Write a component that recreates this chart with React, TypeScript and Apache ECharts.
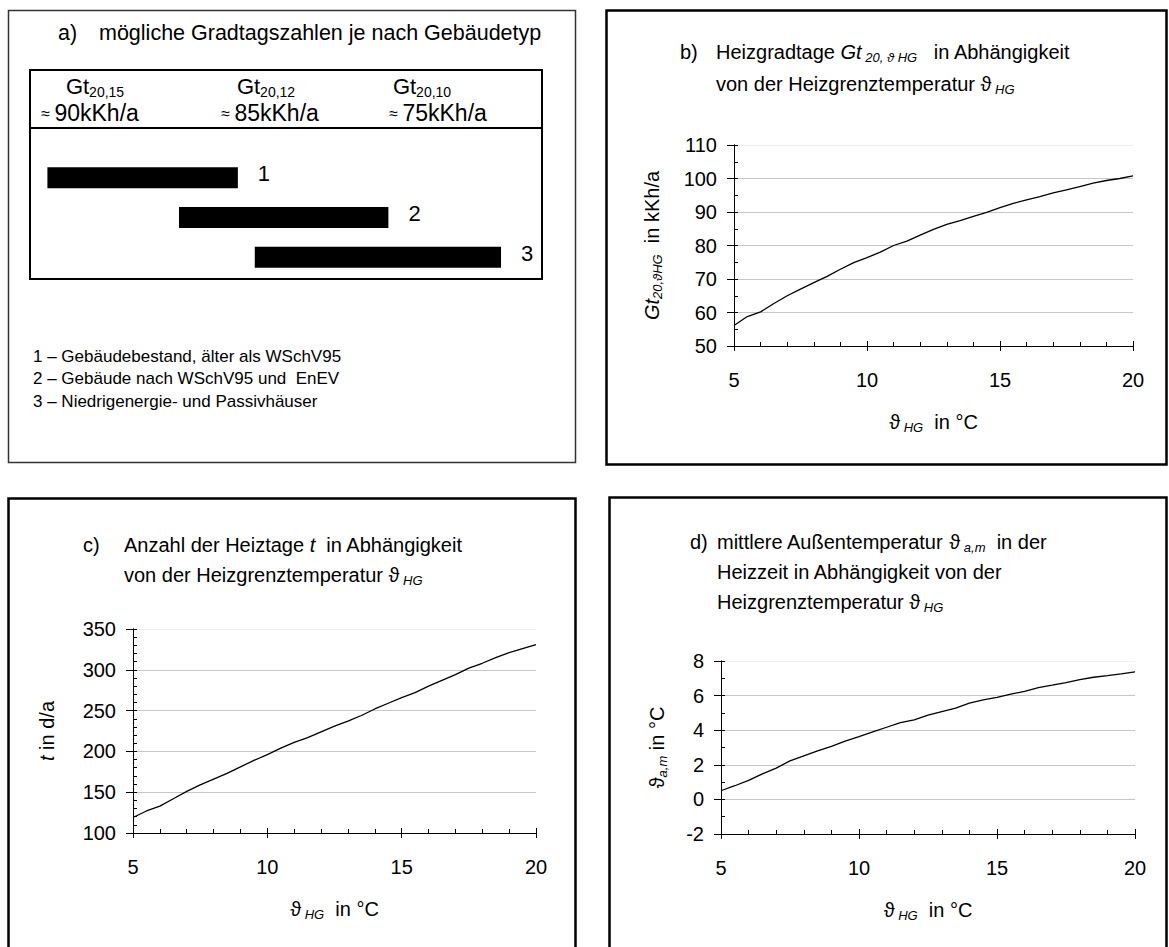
import React, { useEffect, useRef } from "react";
import * as echarts from "echarts";

const FONT = "'Liberation Sans', Arial, 'DejaVu Sans', sans-serif";

// Heizgrenztemperatur (x values, °C)
const tempHG = [5, 5.5, 6, 6.5, 7, 7.5, 8, 8.5, 9, 9.5, 10, 10.5, 11, 11.5, 12, 12.5, 13, 13.5, 14, 14.5, 15, 15.5, 16, 16.5, 17, 17.5, 18, 18.5, 19, 19.5, 20];
// b) Heizgradtage in kKh/a
const gradtage = [56.1, 58.8, 60.2, 62.7, 65.0, 67.0, 68.9, 70.8, 72.9, 74.9, 76.4, 78.0, 80.0, 81.3, 83.1, 84.8, 86.3, 87.4, 88.7, 89.9, 91.3, 92.6, 93.6, 94.6, 95.7, 96.6, 97.6, 98.6, 99.4, 100.0, 100.8];
// c) Heiztage in d/a
const heiztage = [119, 127, 133, 142, 151, 159, 166, 173, 181, 189, 196, 204, 211, 217, 224, 231, 237, 244, 252, 259, 266, 272, 280, 287, 294, 302, 308, 315, 321, 326, 331];
// d) mittlere Außentemperatur in °C
const mittlereTemp = [0.5, 0.79, 1.1, 1.48, 1.81, 2.23, 2.52, 2.81, 3.06, 3.37, 3.63, 3.9, 4.17, 4.44, 4.6, 4.87, 5.08, 5.27, 5.56, 5.75, 5.9, 6.08, 6.25, 6.46, 6.6, 6.75, 6.92, 7.06, 7.15, 7.25, 7.37];

// a) building types and their ranges (relative position 0..100 across the box)
const buildingTypes = ["1", "2", "3"];
const rangeStart = [3.4, 29.1, 43.9];
const rangeEnd = [40.6, 70.0, 92.0];
const headerGt = ["20,15", "20,12", "20,10"];
const headerValues = ["90kKh/a", "85kKh/a", "75kKh/a"];
const legendLines = [
  "1 – Gebäudebestand, älter als WSchV95",
  "2 – Gebäude nach WSchV95 und  EnEV",
  "3 – Niedrigenergie- und Passivhäuser",
];

const baseRich = {
  n: { fontSize: 20, fontFamily: FONT, color: "#000", lineHeight: 24 },
  i: { fontSize: 20, fontFamily: FONT, fontStyle: "italic", color: "#000", lineHeight: 24 },
  s: { fontSize: 13, fontFamily: FONT, fontStyle: "italic", color: "#000", lineHeight: 13, verticalAlign: "bottom" },
};

const xName = "{n|ϑ}{s| HG}{n|  in °C}";

function axesFor(
  grid: number,
  ymin: number,
  ymax: number,
  yint: number,
  ySplit: number,
  yName: string,
  yNameGap: number,
  splitColors: string[]
) {
  const common = { type: "value", gridIndex: grid, min: 5, max: 20, interval: 5 };
  const xs = [
    {
      ...common,
      position: "bottom",
      axisLine: { show: true, onZero: false, lineStyle: { color: "#000", width: 1 } },
      axisTick: { show: true, inside: false, length: 5, lineStyle: { color: "#000" } },
      minorTick: { show: false },
      splitLine: { show: false },
      axisLabel: { fontSize: 20, fontFamily: FONT, color: "#000", margin: 24 },
      name: xName,
      nameLocation: "middle",
      nameGap: 64,
      nameTextStyle: { rich: baseRich },
    },
    {
      ...common,
      position: "bottom",
      axisLine: { show: true, onZero: false, lineStyle: { color: "#000", width: 1 } },
      axisTick: { show: true, inside: true, length: 5, lineStyle: { color: "#000" } },
      minorTick: { show: true, splitNumber: 5, length: 4, lineStyle: { color: "#000" } },
      splitLine: { show: false },
      axisLabel: { show: false },
    },
  ];
  const ycommon = { type: "value", gridIndex: grid, min: ymin, max: ymax, interval: yint };
  const ys = [
    {
      ...ycommon,
      position: "left",
      axisLine: { show: true, onZero: false, lineStyle: { color: "#000", width: 1 } },
      axisTick: { show: true, inside: false, length: 7, lineStyle: { color: "#000" } },
      minorTick: { show: false },
      splitLine: { show: true, lineStyle: { color: splitColors, width: 1 } },
      axisLabel: { fontSize: 20, fontFamily: FONT, color: "#000", margin: 17 },
      name: yName,
      nameLocation: "middle",
      nameRotate: 90,
      nameGap: yNameGap,
      nameTextStyle: { rich: baseRich },
    },
    {
      ...ycommon,
      position: "left",
      axisLine: { show: true, onZero: false, lineStyle: { color: "#000", width: 1 } },
      axisTick: { show: true, inside: true, length: 4, lineStyle: { color: "#000" } },
      minorTick: { show: true, splitNumber: ySplit, length: 4, lineStyle: { color: "#000" } },
      splitLine: { show: false },
      axisLabel: { show: false },
    },
  ];
  return { xs, ys };
}

function textEl(x: number, y: number, text: string, rich: any, extra: any = {}) {
  return {
    type: "text",
    x,
    y,
    silent: true,
    style: { text, rich, fill: "#000", font: `20px ${FONT}`, verticalAlign: "middle", align: "left", ...extra },
  };
}

export default function App() {
  const ref = useRef<HTMLDivElement>(null);
  useEffect(() => {
    if (!ref.current) return;
    const chart = echarts.init(ref.current, undefined, { renderer: "svg" });
    const g5 = "#c6c6c6";
    const light = "#eeeeee";
    const b = axesFor(0, 50, 110, 10, 2, "{i|Gt}{s|20,ϑHG}{n|  in kKh/a}", 70, [g5, g5, g5, g5, g5, g5, light]);
    const c = axesFor(1, 100, 350, 50, 5, "{i|t}{n| in d/a}", 74, [g5, g5, g5, g5, g5, light]);
    const d = axesFor(2, -2, 8, 2, 2, "{n|ϑ}{s|a,m}{n| in °C}", 52, [g5, g5, g5, g5, g5, light]);

    const graphic: any[] = [];
    // panel frames
    graphic.push({ type: "rect", silent: true, shape: { x: 8.5, y: 10.5, width: 567, height: 452 }, style: { fill: "none", stroke: "#333", lineWidth: 1.5 } });
    graphic.push({ type: "rect", silent: true, shape: { x: 606.5, y: 10.5, width: 560, height: 454 }, style: { fill: "none", stroke: "#000", lineWidth: 2.5 } });
    graphic.push({ type: "rect", silent: true, shape: { x: 8.5, y: 498.5, width: 567, height: 470 }, style: { fill: "none", stroke: "#000", lineWidth: 2.5 } });
    graphic.push({ type: "rect", silent: true, shape: { x: 609.5, y: 497.5, width: 557, height: 470 }, style: { fill: "none", stroke: "#000", lineWidth: 2.5 } });

    // panel a
    graphic.push(textEl(58, 33, "a)", null, { font: `21.5px ${FONT}` }));
    graphic.push(textEl(99, 33, "mögliche Gradtagszahlen je nach Gebäudetyp", null, { font: `21.5px ${FONT}` }));
    graphic.push({ type: "rect", silent: true, shape: { x: 30, y: 70, width: 512, height: 209 }, style: { fill: "none", stroke: "#000", lineWidth: 2 } });
    graphic.push({ type: "line", silent: true, shape: { x1: 30, y1: 128, x2: 542, y2: 128 }, style: { stroke: "#000", lineWidth: 2 } });
    const gtCenters = [95, 266, 422];
    const valCenters = [90, 270, 438];
    const headRich = {
      g: { fontSize: 22, fontFamily: FONT, color: "#000", lineHeight: 26 },
      v: { fontSize: 23, fontFamily: FONT, color: "#000", lineHeight: 26 },
      s: { fontSize: 14, fontFamily: FONT, color: "#000", lineHeight: 14, verticalAlign: "bottom" },
      ap: { fontSize: 16, fontFamily: FONT, color: "#000", lineHeight: 26 },
    };
    headerGt.forEach((s, i) => {
      graphic.push(textEl(gtCenters[i], 86, `{g|Gt}{s|${s}}`, headRich, { align: "center" }));
      graphic.push(textEl(valCenters[i], 113, `{ap|≈ }{v|${headerValues[i]}}`, headRich, { align: "center" }));
    });
    legendLines.forEach((s, i) => {
      graphic.push(textEl(33, 356 + i * 22.5, s, null, { font: `17px ${FONT}` }));
    });

    // titles b
    graphic.push(textEl(680, 52, "b)", baseRich));
    graphic.push(textEl(716, 52, "{n|Heizgradtage }{i|Gt}{s| 20, ϑ HG}{n|   in Abhängigkeit}", baseRich));
    graphic.push(textEl(716, 84, "{n|von der Heizgrenztemperatur }{n|ϑ}{s| HG}", baseRich));
    // titles c
    graphic.push(textEl(83, 545, "c)", baseRich));
    graphic.push(textEl(124, 545, "{n|Anzahl der Heiztage }{i|t}{n|  in Abhängigkeit}", baseRich));
    graphic.push(textEl(124, 575, "{n|von der Heizgrenztemperatur }{n|ϑ}{s| HG}", baseRich));
    // titles d
    graphic.push(textEl(690, 542, "d)", baseRich));
    graphic.push(textEl(717, 542, "{n|mittlere Außentemperatur }{n|ϑ}{s| a,m}{n|  in der}", baseRich));
    graphic.push(textEl(717, 572, "{n|Heizzeit in Abhängigkeit von der}", baseRich));
    graphic.push(textEl(717, 602, "{n|Heizgrenztemperatur }{n|ϑ}{s| HG}", baseRich));

    const lineSeries = (xi: number, values: number[]) => ({
      type: "line",
      xAxisIndex: xi,
      yAxisIndex: xi,
      data: tempHG.map((t, i) => [t, values[i]]),
      showSymbol: false,
      symbol: "none",
      lineStyle: { color: "#000", width: 1.3 },
      silent: true,
      z: 5,
    });

    chart.setOption({
      animation: false,
      backgroundColor: "#fff",
      grid: [
        { left: 734, top: 145, width: 399, height: 201, containLabel: false },
        { left: 133, top: 629, width: 403, height: 204, containLabel: false },
        { left: 721, top: 661, width: 414, height: 173, containLabel: false },
        { left: 30, top: 158, width: 512, height: 119, containLabel: false },
      ],
      xAxis: [
        ...b.xs,
        ...c.xs,
        ...d.xs,
        { type: "value", gridIndex: 3, min: 0, max: 100, show: false },
      ],
      yAxis: [
        ...b.ys,
        ...c.ys,
        ...d.ys,
        { type: "category", gridIndex: 3, data: buildingTypes, inverse: true, show: false },
      ],
      series: [
        lineSeries(0, gradtage),
        lineSeries(2, heiztage),
        lineSeries(4, mittlereTemp),
        {
          type: "custom",
          xAxisIndex: 6,
          yAxisIndex: 6,
          silent: true,
          data: buildingTypes.map((_, i) => [rangeStart[i], rangeEnd[i], i]),
          renderItem: (params: any, api: any) => {
            const cat = api.value(2);
            const p0 = api.coord([api.value(0), cat]);
            const p1 = api.coord([api.value(1), cat]);
            const h = 21;
            return {
              type: "group",
              children: [
                { type: "rect", shape: { x: p0[0], y: p0[1] - h / 2, width: p1[0] - p0[0], height: h }, style: { fill: "#000" } },
                {
                  type: "text",
                  x: p1[0] + 20,
                  y: p0[1] - 4,
                  style: { text: buildingTypes[params.dataIndex], fill: "#000", font: `22px ${FONT}`, verticalAlign: "middle", align: "left" },
                },
              ],
            };
          },
        },
      ],
      graphic,
    });
    return () => chart.dispose();
  }, []);
  return <div ref={ref} style={{ position: "absolute", left: 0, top: 0, width: 1169, height: 947, background: "#fff" }} />;
}
